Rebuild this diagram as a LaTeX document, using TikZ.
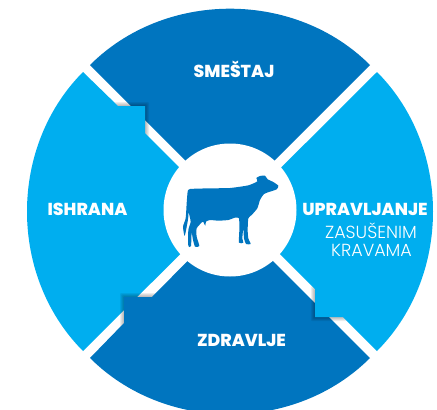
\documentclass[tikz,border=0pt]{standalone}
\usepackage{fontspec}
\setmainfont{Poppins}[UprightFont=* ExtraBold]
\newfontfamily\thinfont{Poppins}[UprightFont=* Light]
\definecolor{darkblue}{RGB}{0,117,191}
\definecolor{lightblue}{RGB}{0,174,239}
\tikzset{
  lab/.style={text=white,inner sep=0pt,font=\fontsize{17.3}{18}\selectfont},
  sublab/.style={text=white,inner sep=0pt,font=\fontsize{17.5}{18}\thinfont},
}
\newcommand{\softshadow}[4]{%
  \foreach \d in {4,3,2,1}{
    \fill[black,opacity=0.07,rounded corners=1pt] (#1-\d,#2-\d) rectangle (#3+\d,#4+\d);
  }}
\begin{document}
\begin{tikzpicture}[x=1pt,y=-1pt]
\useasboundingbox (0,0) rectangle (437,410);
\clip (0,0) rectangle (437,410);
% top wedge
\fill[darkblue] (230,205) -- (90,65)
  .. controls (127,28) and (178,8.7) .. (230,8.7)
  .. controls (282,8.7) and (333,28) .. (370,65) -- cycle;
\softshadow{118}{106}{145}{133}
% left wedge
\fill[lightblue] (223,211.5) -- (179,167) -- (145,133) -- (145,106) -- (118,106) -- (83,72)
  .. controls (48,107) and (27,157) .. (27,211.5)
  .. controls (27,266) and (48,316) .. (83,351) -- cycle;
\softshadow{124}{297}{152}{323}
% bottom wedge
\fill[darkblue] (230,218) -- (152,297) -- (124,297) -- (124,323) -- (90,358)
  .. controls (127,395) and (178,414.3) .. (230,414.3)
  .. controls (282,414.3) and (333,395) .. (370,358) -- cycle;
\softshadow{315}{290}{343}{317}
% right wedge
\fill[lightblue] (237,211.5) -- (315,289) -- (315,317) -- (343,317) -- (377,351)
  .. controls (412,316) and (433,266) .. (433,211.5)
  .. controls (433,157) and (412,107) .. (377,72) -- cycle;
% hub
\fill[white] (230,210) circle[radius=66.5];
% cow
\begin{scope}[shift={(180,170)},x=0.3333pt,y=-0.3333pt]
\fill[darkblue,line join=round] plot[smooth cycle,tension=0.35] coordinates {
 (30,57) (90,55) (150,54) (205,46) (232,34) (229,24) (240,18) (255,17) (263,28) (278,35) (295,47)
 (290,58) (270,65) (252,72) (240,90) (232,115) (215,135) (205,145) (203,180) (205,205) (212,222)
 (198,222) (192,205) (190,175) (187,205) (190,218) (177,218) (178,180) (177,145) (165,143) (145,150)
 (115,152) (90,150) (78,155) (76,167) (72,160) (68,155) (50,175) (50,200) (58,228) (45,230) (38,205)
 (35,185) (33,228) (25,228) (25,180) (32,155) (25,120) (27,90) (25,140) (22,160) (14,198) (9,170) (17,145) (20,100) (23,65)};
\end{scope}
% labels
\node[lab] (smestaj) at (234,69) {SMEŠTAJ};
\node[lab] (ishrana) at (87.5,209) {ISHRANA};
\node[lab] (zdravlje) at (241.5,340) {ZDRAVLJE};
\node[lab] (upravljanje) at (365,209) {UPRAVLJANJE};
\node[sublab] (zasusenim) at (371,231) {ZASUŠENIM};
\node[sublab] (kravama) at (371.5,250) {KRAVAMA};
\end{tikzpicture}
\end{document}
